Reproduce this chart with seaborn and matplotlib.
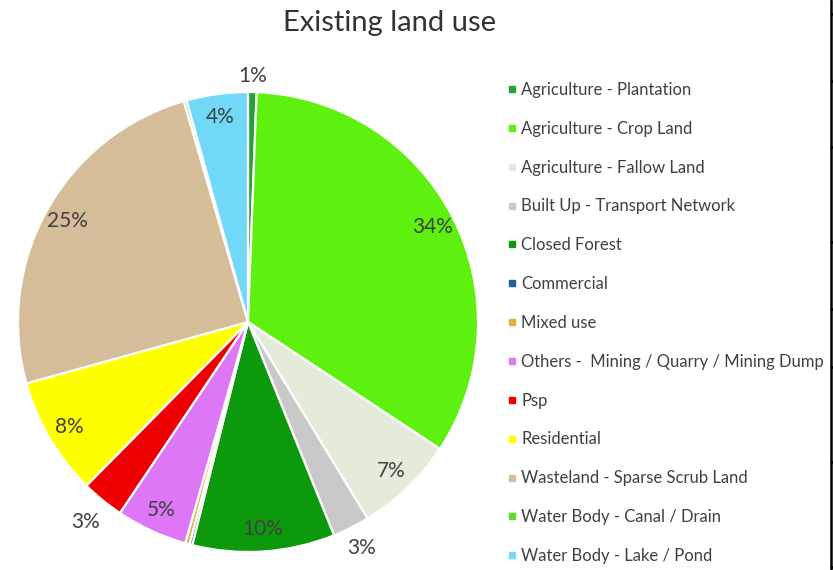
import matplotlib
matplotlib.use("Agg")
import matplotlib.pyplot as plt
from matplotlib.lines import Line2D
import numpy as np
import seaborn as sns

# Land-use categories and their shares (%)
categories = [
    "Agriculture - Plantation",
    "Agriculture - Crop Land",
    "Agriculture - Fallow Land",
    "Built Up - Transport Network",
    "Closed Forest",
    "Commercial",
    "Mixed use",
    "Others -  Mining / Quarry / Mining Dump",
    "Psp",
    "Residential",
    "Wasteland - Sparse Scrub Land",
    "Water Body - Canal / Drain",
    "Water Body - Lake / Pond",
]
shares = [0.6, 33.7, 7.0, 2.6, 10.0, 0.2, 0.3, 5.0, 3.0, 8.3, 24.8, 0.2, 4.3]
colors = [
    "#23a236", "#5ef00f", "#e3ecd9", "#c9c9c9", "#0c990c", "#1f5fa0",
    "#e0b040", "#dd77f5", "#ee0000", "#ffff00", "#d4bd98", "#5ae02a",
    "#72d8f8",
]
# labels placed outside the pie (thin slices)
outside = {"Agriculture - Plantation": 1.07,
           "Built Up - Transport Network": 1.1,
           "Psp": 1.12}
min_label = 0.5

sns.set_theme(style="white")
plt.rcParams["font.family"] = ["Lato", "DejaVu Sans"]

W, H = 833, 570
fig = plt.figure(figsize=(W / 100, H / 100), dpi=100)
fig.patch.set_facecolor("white")

cx, cy, r = 248, 322, 230
ax = fig.add_axes([(cx - r) / W, (H - cy - r) / H, 2 * r / W, 2 * r / H])
wedges, _ = ax.pie(
    shares, colors=colors, startangle=90, counterclock=False,
    wedgeprops=dict(edgecolor="white", linewidth=1.6),
)
ax.set_xlim(-1, 1)
ax.set_ylim(-1, 1)
ax.set_axis_off()

total = sum(shares)
for w, name, v in zip(wedges, categories, shares):
    if v < min_label:
        continue
    mid = np.deg2rad((w.theta1 + w.theta2) / 2)
    dist = outside.get(name, 0.9)
    ax.text(dist * np.cos(mid), dist * np.sin(mid), f"{v / total * 100:.0f}%",
            ha="center", va="center", fontsize=15, color="#404040",
            clip_on=False)

fig.text(390 / W, 1 - 23 / H, "Existing land use", ha="center", va="center",
         fontsize=21, color="#333333")

handles = [Line2D([], [], marker="s", linestyle="none", markersize=4,
                  markerfacecolor=c, markeredgecolor=c) for c in colors]
fig.legend(handles, categories, loc="upper left",
           bbox_to_anchor=(507 / W, 1 - 82 / H), frameon=False,
           fontsize=12, labelcolor="#404040", handlelength=0.55,
           handletextpad=0.3, labelspacing=1.37, borderpad=0,
           borderaxespad=0)

# neighbouring table border on the right
fig.add_artist(Line2D([830.5 / W] * 2, [0, 1], color="black", lw=1.8))
for y in [14, 81, 147, 242, 309, 367, 462, 567]:
    fig.add_artist(Line2D([830.5 / W, 1], [1 - y / H] * 2, color="black",
                          lw=1.8))

fig.text(0, 1 + 7 / H, "d Total", ha="left", va="center", fontsize=13,
         fontweight="bold", color="black")

fig.savefig("out.png", dpi=100)
